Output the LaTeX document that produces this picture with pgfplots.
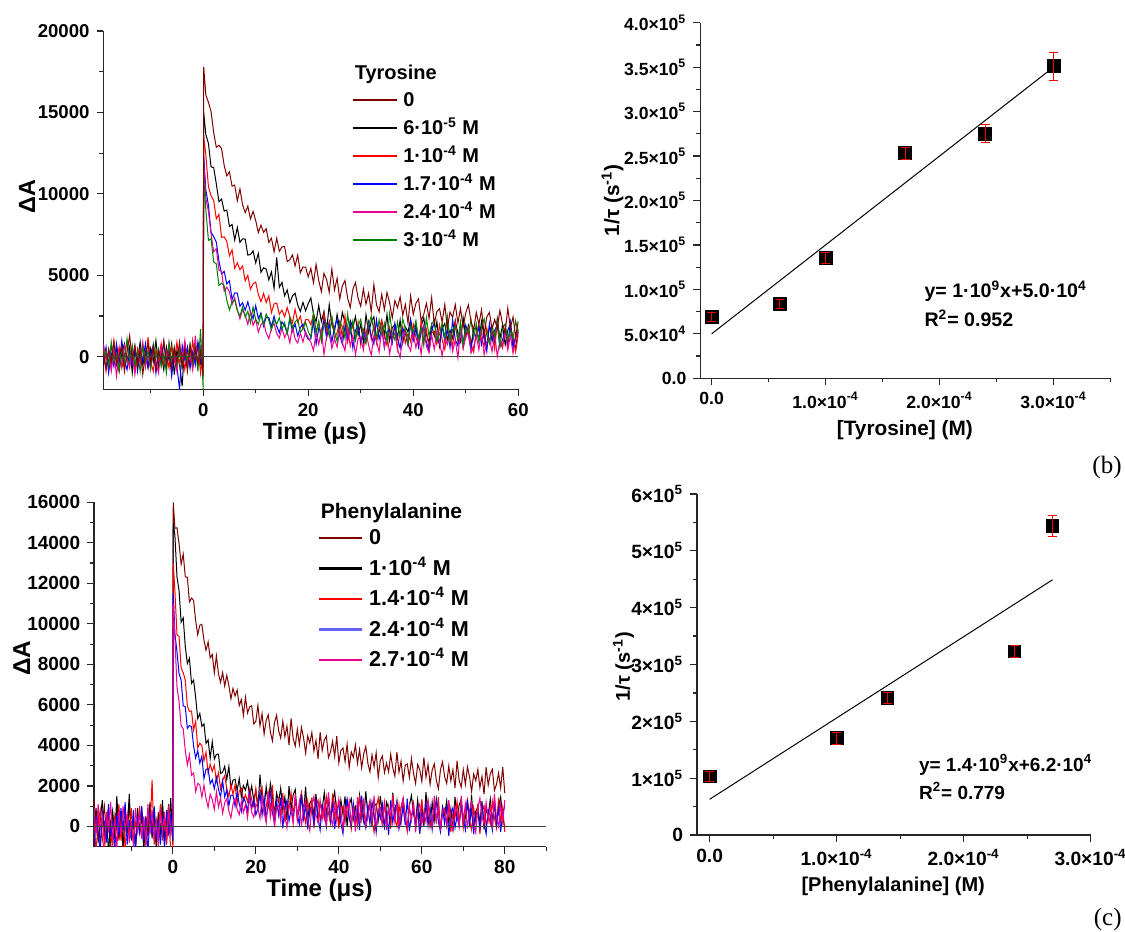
\documentclass[border=0pt]{standalone}
\usepackage{fontspec}
\setmainfont{Liberation Sans}
\newfontfamily\seriffont{Liberation Serif}
\usepackage{pgfplots}
\usepackage{pgfplotstable}
\pgfplotsset{compat=1.18}
\definecolor{dred}{RGB}{128,0,0}
\definecolor{dgreen}{RGB}{0,128,0}
\definecolor{lblue}{RGB}{100,100,255}

\pgfplotsset{
  myaxis/.style={
    scale only axis,
    anchor=south west,
    axis x line*=bottom, axis y line*=left,
    axis line style={black!85, line width=0.6pt, -},
    x axis line style={-}, y axis line style={-},
    tick align=outside,
    major tick length=3.4pt, minor tick length=2pt,
    every tick/.style={black!85, line width=0.6pt},
    scaled ticks=false,
    clip=true,
  },
  trace/.style={line width=0.5pt, forget plot},
  errs/.style={red, forget plot, draw=none, mark=none,
    error bars/.cd, y dir=both, y explicit,
    error bar style={red, line width=0.5pt, solid},
    error mark=-,
    error mark options={red, line width=0.5pt, mark size=2.2pt, rotate=90}},
  sq/.style 2 args={black, forget plot, draw=none, mark=none,
    error bars/.cd, y dir=both, y fixed=#1,
    error mark=none,
    error bar style={black, line width=#2, line cap=butt, solid}},
}

\pgfplotstableread{
t a b c d e f
-19 200 -600 500 -300 800 -100
-18.5 -700 300 -900 600 -200 400
-18 500 -400 200 -1000 300 -600
-17.5 -300 700 -500 200 -900 900
-17 900 -200 1000 -600 400 -300
-16.5 -500 500 -300 800 -1200 200
-16 100 -900 600 -400 300 -800
-15.5 600 200 -700 1000 -500 500
-15 -900 800 100 -200 700 -400
-14.5 300 -300 900 -800 -100 1100
-14 1300 600 -400 300 -700 -200
-13.5 -200 -1000 300 -500 500 700
-13 700 400 -800 600 -1100 -500
-12.5 -600 -200 500 -900 200 300
-12 400 900 -100 400 -400 -900
-11.5 -1100 -500 700 -300 900 600
-11 200 300 -600 800 -600 -300
-10.5 800 -700 1200 -600 100 400
-10 -400 500 -300 200 -800 -700
-9.5 600 -300 -900 700 400 800
-9 -800 1000 400 -1000 -300 -100
-8.5 300 -600 -200 400 -1000 500
-8 -200 200 800 -500 600 -600
-7.5 1000 -800 -500 900 -200 200
-7 -500 600 300 -300 -700 -1000
-6.5 200 -200 -700 500 800 900
-6 -700 800 600 -1200 -400 -300
-5.5 500 -1100 -300 300 200 600
-5 -300 400 900 -600 -900 -500
-4.5 900 -500 -400 -2000 600 300
-4 -600 -1800 200 700 -300 -700
-3.5 400 900 -800 -200 1000 400
-3 -900 -300 500 600 -600 -200
-2.5 700 500 -600 -700 300 800
-2 -200 -700 1000 300 -800 -400
-1.5 500 200 -300 -500 1300 600
-1 -400 800 700 900 -500 -900
-0.5 300 -400 -1000 -300 600 1700
0 -1200 200 400 -500 -200 -2000
0.1 17800 15000 13500 12300 12000 11000
0.5 16080 13640 12420 10260 9760 9060
1 15620 13100 10440 9300 8920 7140
1.5 15060 11660 9880 7640 7540 7240
2 13760 11620 9600 7380 6440 5820
2.5 12860 10610 8460 7030 6640 5700
3 12980 9520 8740 5880 5320 4380
3.5 12780 9680 7330 5080 5240 4520
4 11740 8940 7360 5240 4020 4360
4.5 11100 9010 7080 4470 4270 3460
5 11360 8000 6200 4660 3980 2860
5.5 10470 8120 6560 3510 3200 3380
6 10540 7160 5420 3920 3620 3480
6.5 9580 7930 5770 3900 2880 2840
7 10300 7020 5340 3100 2320 2500
7.5 9330 7240 5570 3310 2890 3060
8 8840 7220 4660 2860 2560 2420
8.5 9250 6240 5000 3370 1990 2790
9 8460 6280 4140 2740 2740 2080
9.5 8920 6500 4480 2340 1920 3050
10 8360 5760 4580 3140 2300 2280
10.5 7620 6340 3830 2340 1500 1990
11 8080 5180 3380 2690 1970 2600
11.5 7640 5460 3890 1890 2130 2010
12 7860 5380 3320 2420 1460 2620
12.5 7020 4720 3740 2400 1110 2230
13 7270 5210 2710 1850 1780 1650
13.5 6440 4200 3240 2490 2030 2280
14 7280 6100 3300 1880 1440 2010
14.5 6470 4260 2600 1470 1150 2390
15 6740 4570 2860 2140 1760 1700
15.5 6770 3740 2460 1910 1170 2100
16 5840 4100 3020 1440 1540 1420
16.5 5950 3310 2460 2310 850 2420
17 6250 3730 2090 1570 1850 1740
17.5 5580 3900 2910 2020 1100 2140
18 6240 3180 2120 1280 840 2300
18.5 5150 2780 2490 1790 1470 1500
19 5510 3340 1720 2010 910 1720
19.5 5500 2820 2270 1380 1540 2120
20 4900 3260 2280 1060 1160 1560
20.5 5420 3610 1960 1090 890 1195
21 4540 2625 2620 2180 380 2690
21.5 5660 2140 1480 770 1470 1485
22 4680 3150 2140 1760 760 2180
22.5 4000 2160 1000 1450 1650 975
23 5120 2775 2660 2240 140 1970
23.5 4740 1590 1520 1130 1230 2065
24 3960 3200 2180 2020 1520 1260
24.5 5380 1970 2440 910 510 2455
25 4100 1530 1100 1800 1100 1550
25.5 4820 2600 1480 2290 590 945
26 3540 1670 2160 1280 1680 2140
26.5 4360 2730 1240 770 870 1835
27 4680 2100 2520 1860 360 1130
27.5 3600 1170 900 1150 1850 2625
28 3020 2230 1680 2040 640 1420
28.5 4140 1800 1860 530 1330 2215
29 4560 2470 1040 1620 120 1010
29.5 3580 1330 2120 1910 1110 1905
30 3100 2000 700 900 1200 2300
30.5 4165 890 1690 1495 400 1295
31 3230 2580 1380 990 1595 790
31.5 3895 1470 2170 2085 693 1985
32 2760 2160 1060 1280 90 2480
32.5 4425 2450 1950 775 1288 1575
33 3190 1140 840 2270 985 1170
33.5 2755 1530 1730 1065 283 2265
34 3820 2220 2220 1760 1780 1360
34.5 2885 1310 1210 555 578 2055
35 3950 2600 700 1550 1375 950
35.5 3315 990 1790 1645 173 2645
36 2380 1780 1080 840 1070 1440
36.5 3445 1970 1970 2035 1468 1035
37 3010 1160 460 1130 465 2130
37.5 3675 2250 1550 525 -37 1225
38 2540 840 1840 1720 1160 2320
38.5 3205 1830 830 1415 1658 1715
39 2070 1520 1420 710 755 810
39.5 3735 2310 910 2205 353 1905
40 2600 1200 2000 1000 1450 1500
40.5 3275 2095 1195 1798 550 2198
41 3550 990 690 595 1248 1095
41.5 2225 1885 2185 1493 148 1793
42 2600 2380 980 1890 1845 690
42.5 3275 1375 1675 888 645 2388
43 2350 870 470 385 243 1285
43.5 3625 1965 1465 1583 1343 1983
44 2000 1260 1560 2080 440 2280
44.5 2775 2155 755 1178 1540 978
45 2950 650 1950 775 938 1375
45.5 2125 1745 1045 1873 38 2073
46 3200 2040 440 970 1135 1170
46.5 1775 1035 1635 1668 735 2468
47 2750 1630 1330 565 1433 865
47.5 2425 1125 625 2263 333 1663
48 3200 2220 2120 1060 1030 1860
48.5 2075 1415 915 658 -70 1058
49 2950 910 1710 1755 1628 2155
49.5 1825 2405 505 853 528 753
50 2700 1200 1400 1950 1225 1750
50.5 3180 1895 1795 1348 1524 1448
51 2160 690 790 445 223 2245
51.5 1640 1685 285 1543 621 1143
52 2720 1780 1480 1140 1320 2040
52.5 2000 975 1975 1838 419 938
53 2880 2170 1070 735 1718 1835
53.5 1360 1265 665 1433 116 2333
54 2440 660 1760 330 915 1330
54.5 2720 1855 855 2028 1114 828
55 1700 1550 1550 925 313 1925
55.5 2280 845 445 1623 1411 1223
56 1760 2340 2140 1920 10 2120
56.5 2840 1135 935 618 1009 618
57 2020 1930 530 1015 708 1715
57.5 1500 725 1625 1713 1506 2013
58 2980 1620 720 810 405 1010
58.5 1760 2015 1815 2108 1304 1608
59 2440 1010 1210 505 203 1105
59.5 1220 505 305 1303 1101 2203
60 2200 1700 1400 1500 1600 1400
}\tyrtrace

\pgfplotstableread{
t a b c d e
-19 1400 -200 300 -1000 900
-18.5 -300 900 -1200 500 -400
-18 600 -800 200 -300 1100
-17.5 -900 300 800 -1300 -200
-17 200 1300 -500 700 500
-16.5 1000 -500 -1400 200 -900
-16 -400 600 400 -800 700
-15.5 700 -1300 900 1100 -300
-15 -1100 200 -300 -500 1200
-14.5 500 800 -900 300 -700
-14 -200 -600 500 -1200 400
-13.5 900 1500 -200 600 -1100
-13 -700 -300 1100 -400 800
-12.5 300 700 -700 900 -500
-12 -1200 -900 300 -200 1000
-11.5 800 400 -1100 1200 -200
-11 -300 -200 600 -900 600
-10.5 1100 1600 -400 300 -800
-10 -600 -700 900 -600 300
-9.5 400 300 -800 800 -1000
-9 -1000 -1100 200 -1100 900
-8.5 600 900 -300 500 -300
-8 -200 -400 1000 -300 700
-7.5 900 600 -600 1000 -600
-7 -800 -1200 400 -700 500
-6.5 300 500 -1000 400 -900
-6 -500 -300 700 -1300 1100
-5.5 1200 1100 -200 600 -400
-5 -300 -600 2300 -400 800
-4.5 500 800 -900 1000 -700
-4 -900 -1000 300 -600 400
-3.5 700 400 -500 300 -1000
-3 -400 -300 1100 -900 900
-2.5 1000 1300 -700 500 -300
-2 -600 -800 200 -1100 700
-1.5 200 600 -900 800 -600
-1 1100 -400 500 -300 1000
-0.5 -300 1400 -1200 600 -400
0 600 -900 -1200 -700 300
0.1 16000 15000 13000 11500 11000
0.5 14720 14360 11620 9520 9300
1 14740 12320 9460 8620 6900
1.5 13960 11640 9380 7540 6160
2 12940 10080 7820 7220 4960
2.5 13440 10300 7590 5960 4820
3 12320 8880 7220 5900 3740
3.5 12300 8040 5940 4840 3040
4 11080 8300 5680 4980 3540
4.5 11270 7060 5700 4930 2520
5 11160 7220 4760 3980 2640
5.5 10160 6360 5190 3380 1720
6 9460 5320 3880 3740 2120
6.5 9930 5580 4110 3120 2050
7 9980 4940 3980 3460 1450
7.5 9190 5060 3250 2360 2040
8 8700 4100 3660 2820 1380
8.5 9110 4270 2640 2850 940
9 8320 3360 3070 2100 1590
9.5 8490 4180 2710 2310 1330
10 7580 3320 3020 1860 840
10.5 8420 3560 2230 2420 1710
11 7530 3570 2650 1840 960
11.5 7110 2610 1860 1440 1410
12 7600 2680 2280 2240 660
12.5 6930 2970 2510 1450 1170
13 7450 2310 1850 1810 1380
13.5 6960 2960 1480 1020 750
14 6290 1880 2070 1550 420
14.5 6810 2280 1590 1550 1110
15 6440 2330 2060 1000 1380
15.5 6740 1770 1120 1690 830
16 5960 2360 1740 1120 580
16.5 6260 1470 1880 730 1230
17 5480 2020 1240 1420 680
17.5 6380 1790 1560 1210 1090
18 5600 2220 1220 760 420
18.5 5900 1510 1840 1630 1430
19 5960 2000 1320 880 700
19.5 5060 1290 980 1330 450
20 5180 1780 1880 580 1100
20.5 5975 875 980 885 895
21 4970 2550 1660 1670 390
21.5 5565 1325 1940 555 1485
22 4560 900 620 1440 680
22.5 5235 1975 1000 325 175
23 5510 1050 1680 1210 1670
23.5 4665 2125 760 1695 465
24 4220 1500 2040 680 1160
24.5 5135 575 420 165 -45
25 5490 1650 1200 1250 950
25.5 4725 1225 1380 535 1045
26 4360 1900 560 1420 240
26.5 5195 775 1640 -95 1435
27 4430 1450 220 990 530
27.5 4945 325 1200 1275 -75
28 4020 2000 880 260 1120
28.5 5335 875 1660 845 815
29 4330 1550 540 330 110
29.5 3965 1825 1420 1415 1605
30 4800 500 300 600 400
30.5 4045 890 1190 93 1198
31 4890 1580 1680 1585 -4
31.5 4375 670 670 378 894
32 3620 1960 160 1070 1292
32.5 4465 350 1250 -137 290
33 4110 1140 540 855 -212
33.5 4635 1330 1430 948 986
34 3720 520 -80 140 1484
34.5 4245 1610 1010 1333 582
35 3330 200 1300 425 180
35.5 4655 1190 290 -182 1278
36 3740 880 880 1010 376
36.5 4265 1670 370 703 1074
37 4470 560 1460 -5 -28
37.5 3395 1450 650 1488 1670
38 3680 340 140 280 468
38.5 4205 1230 1630 1073 66
39 3450 1720 420 -135 1164
39.5 4455 710 1110 758 262
40 3140 200 -100 1150 1360
40.5 3750 1295 895 148 758
41 3880 590 990 -355 -144
41.5 3210 1485 185 843 954
42 4060 -20 1380 1340 552
42.5 2910 1075 475 438 1250
43 3680 1370 -130 35 148
43.5 3410 365 1065 1133 846
44 4020 960 760 230 -256
44.5 3110 455 55 928 1442
45 3800 1550 1550 -175 340
45.5 2890 745 345 1523 1038
46 3580 240 1140 320 1336
46.5 3950 1735 -65 -82 34
47 3120 530 830 1015 432
47.5 2690 1225 1225 113 1130
48 3540 20 220 1210 228
48.5 2950 1015 -285 608 1526
49 3640 1110 910 -295 -76
49.5 2410 305 1405 803 722
50 3260 1500 500 400 920
50.5 3480 595 98 1098 119
51 2660 -10 1195 -5 1218
51.5 3120 1185 293 693 -183
52 2700 880 990 -410 816
52.5 3560 175 -112 1288 515
53 2900 1670 1585 185 1314
53.5 2480 465 383 883 213
54 3660 1260 -20 1180 1112
54.5 2680 55 1078 -122 11
55 3220 950 175 275 910
55.5 2240 1345 1273 973 1409
56 3020 340 670 70 408
56.5 3080 -165 -232 1368 -93
57 2420 1030 865 -235 1006
57.5 3360 1525 463 563 305
58 2620 620 1160 760 1204
58.5 2120 215 58 -42 -297
59 3060 1310 755 1055 802
59.5 2800 405 -347 -347 1101
60 2220 1100 1350 650 100
60.5 3405 -2 249 349 700
61 2430 1695 948 1148 200
61.5 3055 493 1246 46 1300
62 2080 90 -55 945 500
62.5 2785 1188 344 -156 0
63 3090 285 1043 743 1500
63.5 2275 1383 141 1241 300
64 1860 780 1440 240 1000
64.5 2805 -122 -161 -261 -200
65 3190 975 638 838 800
65.5 2455 573 836 136 900
66 2120 1270 35 1035 100
66.5 2985 168 1134 -466 1300
67 2250 865 -267 633 400
67.5 2795 -237 731 931 -200
68 1900 1460 430 -70 1000
68.5 3245 358 1229 529 700
69 2270 1055 128 28 0
69.5 1935 1353 1026 1126 1500
70 2800 50 -75 325 300
70.5 2070 450 825 -175 1100
71 2940 1150 1325 1325 -100
71.5 2450 250 325 125 800
72 1720 1550 -175 825 1200
72.5 2590 -50 925 -375 200
73 2260 750 225 625 -300
73.5 2810 950 1125 725 900
74 1920 150 -375 -75 1400
74.5 2470 1250 725 1125 500
75 1580 -150 1025 225 100
75.5 2930 850 25 -375 1200
76 2040 550 625 825 300
76.5 2590 1350 125 525 1000
77 2820 250 1225 -175 -100
77.5 1770 1150 425 1325 1600
78 2080 50 -75 125 400
78.5 2630 950 1425 925 0
79 1900 1450 225 -275 1100
79.5 2930 450 925 625 200
80 1640 -50 -275 1025 1300
}\phetrace

\pgfplotstableread{
x y e
0 69000 5000
6e-5 84000 5000
1e-4 135000 6000
1.7e-4 253000 7000
2.4e-4 275000 10000
3e-4 351000 16000
}\tyrk

\pgfplotstableread{
x y e
0 103000 9000
1e-4 170000 10000
1.4e-4 241000 10000
2.4e-4 323000 10000
2.7e-4 544000 19000
}\phek

\begin{document}
\begin{tikzpicture}
\useasboundingbox (0,0) rectangle (562.5pt,466pt);

% ---------------- Panel A ----------------
\begin{axis}[myaxis, at={(51.7pt,271.35pt)}, width=207.45pt, height=179.15pt,
  xmin=-19, xmax=60, ymin=-2000, ymax=20000,
  xtick={0,20,40,60}, xticklabels={0,20,40,60}, minor xtick={-10,10,30,50},
  ytick={0,5000,10000,15000,20000}, yticklabels={0,5000,10000,15000,20000},
  minor ytick={2500,7500,12500,17500},
  tick label style={font=\fontsize{9.3}{11}\selectfont\bfseries},
  xlabel={Time (μs)}, ylabel={ΔA},
  xlabel style={at={(axis description cs:0.5095,-0.122)}, anchor=center, font=\fontsize{11.7}{13}\selectfont\bfseries},
  ylabel style={at={(axis description cs:-0.184,0.5375)}, anchor=center, font=\fontsize{11.7}{13}\selectfont\bfseries},
  legend cell align=left,
  legend image code/.code={\draw[#1] (0pt,0pt) -- (22pt,0pt);},
  legend style={at={(axis description cs:0.598,0.842)}, anchor=north west, draw=none, fill=none,
    font=\fontsize{10}{12}\selectfont\bfseries, row sep=1.6pt, inner sep=0pt,
    nodes={inner sep=1.2pt, text height=8pt, text depth=2pt}},
]
\addlegendimage{dred, line width=1pt}\addlegendentry{\hspace{1.5pt}0}
\addlegendimage{black, line width=1pt}\addlegendentry{\hspace{1.5pt}6·10\textsuperscript{-5} M}
\addlegendimage{red, line width=1pt}\addlegendentry{\hspace{1.5pt}1·10\textsuperscript{-4} M}
\addlegendimage{blue, line width=1pt}\addlegendentry{\hspace{1.5pt}1.7·10\textsuperscript{-4} M}
\addlegendimage{magenta, line width=1pt}\addlegendentry{\hspace{1.5pt}2.4·10\textsuperscript{-4} M}
\addlegendimage{dgreen, line width=1pt}\addlegendentry{\hspace{1.5pt}3·10\textsuperscript{-4} M}
\addplot[trace, black] table[x=t, y=b] {\tyrtrace};
\addplot[trace, red] table[x=t, y=c] {\tyrtrace};
\addplot[trace, blue] table[x=t, y=d] {\tyrtrace};
\addplot[trace, magenta] table[x=t, y=e] {\tyrtrace};
\addplot[trace, dgreen] table[x=t, y=f] {\tyrtrace};
\addplot[trace, dred] table[x=t, y=a] {\tyrtrace};
\addplot[black!75, line width=0.6pt, forget plot] coordinates {(-19,0) (60,0)};
\node[anchor=west, inner sep=0pt, font=\fontsize{10}{12}\selectfont\bfseries] at (axis description cs:0.605,0.88) {Tyrosine};
\end{axis}

% ---------------- Panel B ----------------
\begin{axis}[myaxis, at={(350.1pt,276.85pt)}, width=205.15pt, height=177.8pt,
  xmin=-1e-5, xmax=3.5e-4, ymin=0, ymax=4e5,
  xtick={0,1e-4,2e-4,3e-4},
  xticklabels={0.0,1.0×10\textsuperscript{-4},2.0×10\textsuperscript{-4},3.0×10\textsuperscript{-4}},
  minor xtick={5e-5,1.5e-4,2.5e-4,3.5e-4},
  ytick={0,50000,100000,150000,200000,250000,300000,350000,400000},
  yticklabels={0.0,5.0×10\textsuperscript{4},1.0×10\textsuperscript{5},1.5×10\textsuperscript{5},2.0×10\textsuperscript{5},2.5×10\textsuperscript{5},3.0×10\textsuperscript{5},3.5×10\textsuperscript{5},4.0×10\textsuperscript{5}},
  minor ytick={25000,75000,125000,175000,225000,275000,325000,375000},
  tick label style={font=\fontsize{8.8}{10}\selectfont\bfseries},
  xlabel={[Tyrosine] (M)}, ylabel={1/τ (s\textsuperscript{-1})},
  xlabel style={at={(axis description cs:0.4987,-0.1454)}, anchor=center, font=\fontsize{10.4}{12}\selectfont\bfseries},
  ylabel style={at={(axis description cs:-0.2137,0.501)}, anchor=center, font=\fontsize{10.4}{12}\selectfont\bfseries},
]
\addplot[black, line width=0.5pt, forget plot] coordinates {(0,50000) (2.95e-4,345000)};
\addplot[sq={7870}{7pt}] table[x=x, y=y] {\tyrk};
\addplot[errs] table[x=x, y=y, y error=e] {\tyrk};
\node[anchor=west, inner sep=0pt, font=\fontsize{9.8}{11}\selectfont\bfseries] at (axis cs:1.865e-4,98200) {y= 1·10\textsuperscript{9}x+5.0·10\textsuperscript{4}};
\node[anchor=west, inner sep=0pt, font=\fontsize{9.8}{11}\selectfont\bfseries] at (axis cs:1.865e-4,67800) {R\textsuperscript{2}= 0.952};
\end{axis}

% ---------------- Panel C ----------------
\begin{axis}[myaxis, at={(47pt,42.65pt)}, width=226.15pt, height=172.2pt,
  xmin=-19, xmax=90, ymin=-1000, ymax=16000,
  xtick={0,20,40,60,80}, xticklabels={0,20,40,60,80}, minor xtick={-10,10,30,50,70,90},
  ytick={0,2000,4000,6000,8000,10000,12000,14000,16000},
  yticklabels={0,2000,4000,6000,8000,10000,12000,14000,16000},
  minor ytick={1000,3000,5000,7000,9000,11000,13000,15000},
  tick label style={font=\fontsize{9.5}{11}\selectfont\bfseries},
  xlabel={Time (μs)}, ylabel={ΔA},
  xlabel style={at={(axis description cs:0.4986,-0.126)}, anchor=center, font=\fontsize{12}{14}\selectfont\bfseries},
  ylabel style={at={(axis description cs:-0.160,0.547)}, anchor=center, font=\fontsize{12.2}{14}\selectfont\bfseries},
  legend cell align=left,
  legend image code/.code={\draw[#1] (0pt,0pt) -- (21.5pt,0pt);},
  legend style={at={(axis description cs:0.494,0.935)}, anchor=north west, draw=none, fill=none,
    font=\fontsize{10.8}{12}\selectfont\bfseries, row sep=2.4pt, inner sep=0pt,
    nodes={inner sep=1.2pt, text height=8.5pt, text depth=2pt}},
]
\addlegendimage{dred, line width=1.2pt}\addlegendentry{\hspace{1.5pt}0}
\addlegendimage{black, line width=1.2pt}\addlegendentry{\hspace{1.5pt}1·10\textsuperscript{-4} M}
\addlegendimage{red, line width=1.2pt}\addlegendentry{\hspace{1.5pt}1.4·10\textsuperscript{-4} M}
\addlegendimage{lblue, line width=1.5pt}\addlegendentry{\hspace{1.5pt}2.4·10\textsuperscript{-4} M}
\addlegendimage{magenta, line width=1pt}\addlegendentry{\hspace{1.5pt}2.7·10\textsuperscript{-4} M}
\addplot[trace, dred] table[x=t, y=a] {\phetrace};
\addplot[trace, black] table[x=t, y=b] {\phetrace};
\addplot[trace, red] table[x=t, y=c] {\phetrace};
\addplot[trace, blue] table[x=t, y=d] {\phetrace};
\addplot[trace, magenta] table[x=t, y=e] {\phetrace};
\addplot[black!75, line width=0.6pt, forget plot] coordinates {(-19,0) (90,0)};
\node[anchor=west, inner sep=0pt, font=\fontsize{10.5}{12}\selectfont\bfseries] at (axis description cs:0.5008,0.968) {Phenylalanine};
\end{axis}

% ---------------- Panel D ----------------
\begin{axis}[myaxis, at={(348.45pt,48.5pt)}, width=196.85pt, height=170.5pt,
  xmin=-1e-5, xmax=3e-4, ymin=0, ymax=6e5,
  xtick={0,1e-4,2e-4,3e-4},
  xticklabels={0.0,1.0×10\textsuperscript{-4},2.0×10\textsuperscript{-4},3.0×10\textsuperscript{-4}},
  minor xtick={5e-5,1.5e-4,2.5e-4},
  ytick={0,100000,200000,300000,400000,500000,600000},
  yticklabels={0,1×10\textsuperscript{5},2×10\textsuperscript{5},3×10\textsuperscript{5},4×10\textsuperscript{5},5×10\textsuperscript{5},6×10\textsuperscript{5}},
  minor ytick={50000,150000,250000,350000,450000,550000},
  tick label style={font=\fontsize{9.6}{11}\selectfont\bfseries},
  xlabel={[Phenylalanine] (M)}, ylabel={1/τ (s\textsuperscript{-1})},
  xlabel style={at={(axis description cs:0.4986,-0.1516)}, anchor=center, font=\fontsize{10}{12}\selectfont\bfseries},
  ylabel style={at={(axis description cs:-0.1867,0.4935)}, anchor=center, font=\fontsize{10}{12}\selectfont\bfseries},
]
\addplot[black, line width=0.5pt, forget plot] coordinates {(0,62800) (2.7e-4,449000)};
\addplot[sq={12150}{6.9pt}] table[x=x, y=y] {\phek};
\addplot[errs] table[x=x, y=y, y error=e] {\phek};
\node[anchor=west, inner sep=0pt, font=\fontsize{9.5}{11}\selectfont\bfseries] at (axis cs:1.646e-4,123200) {y= 1.4·10\textsuperscript{9}x+6.2·10\textsuperscript{4}};
\node[anchor=west, inner sep=0pt, font=\fontsize{9.5}{11}\selectfont\bfseries] at (axis cs:1.646e-4,78000) {R\textsuperscript{2}= 0.779};
\end{axis}

\node[anchor=east, inner sep=0pt, font=\seriffont\fontsize{12.5}{14}\selectfont] at (561pt,232.5pt) {(b)};
\node[anchor=east, inner sep=0pt, font=\seriffont\fontsize{12.5}{14}\selectfont] at (561pt,6.5pt) {(c)};
\end{tikzpicture}
\end{document}
